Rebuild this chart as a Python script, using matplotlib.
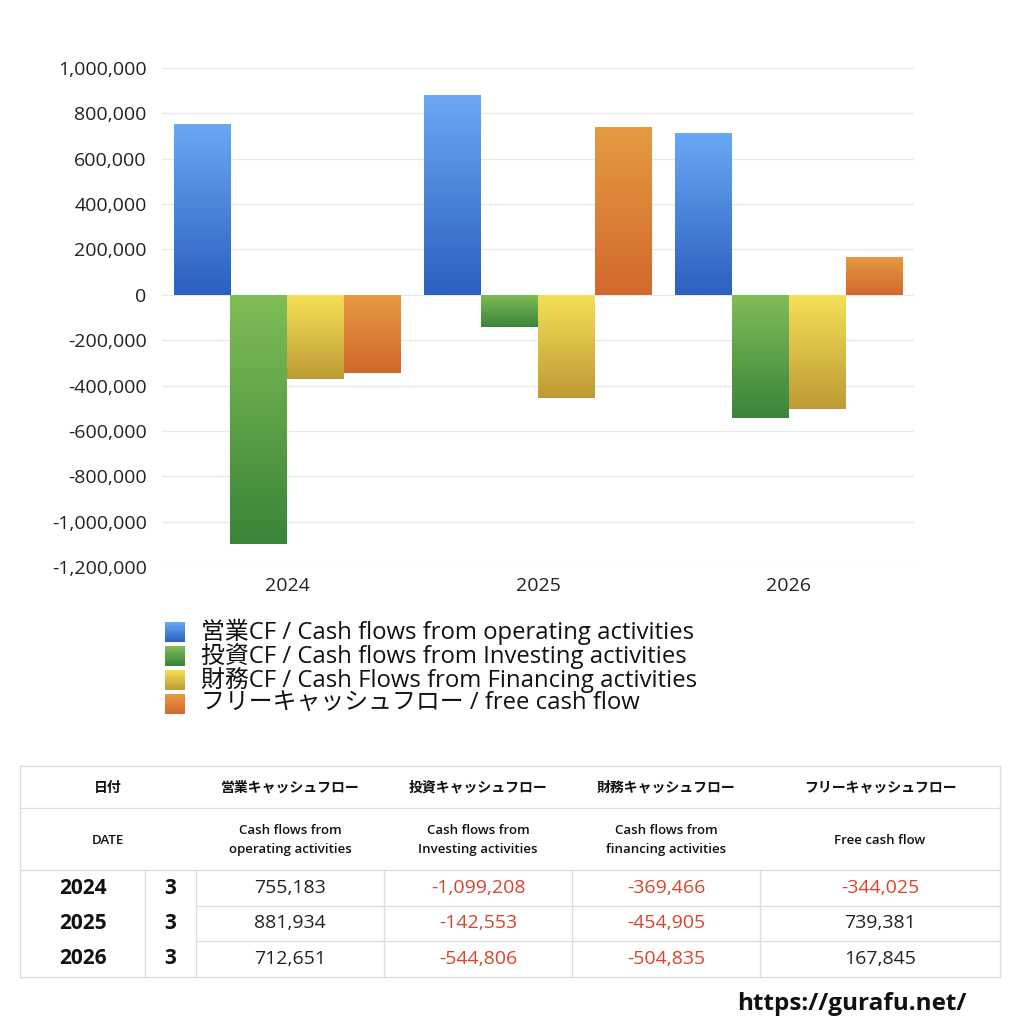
import numpy as np
import matplotlib
matplotlib.use("Agg")
import matplotlib.pyplot as plt
from matplotlib.colors import LinearSegmentedColormap
from matplotlib.ticker import FuncFormatter

plt.rcParams['font.family'] = ['Open Sans', 'Noto Sans CJK JP', 'DejaVu Sans']

# data
years = ["2024", "2025", "2026"]
months = ["3", "3", "3"]
operating_cf = [755183, 881934, 712651]
investing_cf = [-1099208, -142553, -544806]
financing_cf = [-369466, -454905, -504835]
free_cf = [-344025, 739381, 167845]

legend_labels = [
    "営業CF / Cash flows from operating activities",
    "投資CF / Cash flows from Investing activities",
    "財務CF / Cash Flows from Financing activities",
    "フリーキャッシュフロー / free cash flow",
]
header_jp = ["日付", "営業キャッシュフロー", "投資キャッシュフロー", "財務キャッシュフロー", "フリーキャッシュフロー"]
header_en = ["DATE", "Cash flows from\noperating activities", "Cash flows from\nInvesting activities",
             "Cash flows from\nfinancing activities", "Free cash flow"]

# top / bottom gradient colours per series
grad_colors = [
    ("#6aa8f4", "#2b60bf"),
    ("#80be56", "#3a8439"),
    ("#f6e057", "#bd9a34"),
    ("#e59b41", "#d2682d"),
]

W = H = 1024
fig = plt.figure(figsize=(10.24, 10.24), dpi=100)


def fx(px):
    return px / W


def fy(py):
    return 1 - py / H


# --- bar chart ---
ax = fig.add_axes([fx(162), fy(567), fx(914 - 162), (567 - 68) / H])
series = [operating_cf, investing_cf, financing_cf, free_cf]
x = np.arange(len(years))
bw = 0.227
for i, vals in enumerate(series):
    cmap = LinearSegmentedColormap.from_list("g%d" % i, [grad_colors[i][1], grad_colors[i][0]])
    bars = ax.bar(x + (i - 1.5) * bw, vals, width=bw, color="none", edgecolor="none", zorder=3)
    for b in bars:
        x0, y0 = b.get_x(), b.get_y()
        x1, y1 = x0 + b.get_width(), y0 + b.get_height()
        lo, hi = min(y0, y1), max(y0, y1)
        grad = np.linspace(0, 1, 256).reshape(-1, 1)
        im = ax.imshow(grad, cmap=cmap, origin="lower", aspect="auto",
                       extent=[x0, x1, lo, hi], zorder=3)
        im.set_clip_path(b)

ax.set_xlim(-0.5, 2.5)
ax.set_ylim(-1200000, 1000000)
ax.set_yticks(np.arange(-1200000, 1000001, 200000))
ax.yaxis.set_major_formatter(FuncFormatter(lambda v, p: f"{int(v):,}"))
ax.set_xticks(x)
ax.set_xticklabels(years)
ax.grid(axis="y", color="#e8e8e8", linewidth=0.9, zorder=0)
for s in ax.spines.values():
    s.set_visible(False)
ax.tick_params(length=0, labelsize=14, colors="#222222")
ax.tick_params(axis="y", pad=11)
ax.tick_params(axis="x", pad=7)

# --- legend ---
leg_y = [632, 656, 680, 704]
for i, lab in enumerate(leg_y):
    lax = fig.add_axes([fx(165), fy(lab + 10), fx(20), 20 / H])
    cmap = LinearSegmentedColormap.from_list("l%d" % i, [grad_colors[i][1], grad_colors[i][0]])
    lax.imshow(np.linspace(0, 1, 64).reshape(-1, 1), cmap=cmap, origin="lower", aspect="auto")
    lax.axis("off")
    fig.text(fx(201), fy(lab), legend_labels[i], fontsize=17.2, va="center", ha="left", color="#111111")

# --- table ---
line_c = "#dddddd"
left, right = 20, 1000
col_x = [20, 145, 196, 384, 572, 760, 1000]
row_y = [766, 808, 870, 906, 941, 977]


def hline(y, x0, x1):
    fig.add_artist(plt.Line2D([fx(x0), fx(x1)], [fy(y), fy(y)], color=line_c, lw=0.9))


def vline(x, y0, y1):
    fig.add_artist(plt.Line2D([fx(x), fx(x)], [fy(y0), fy(y1)], color=line_c, lw=0.9))


for y in row_y[:3] + [row_y[5]]:
    hline(y, left, right)
for y in row_y[3:5]:
    hline(y, 196, right)
vline(left, row_y[0], row_y[5])
vline(right, row_y[0], row_y[5])
for cx in col_x[1:6]:
    vline(cx, row_y[2], row_y[5])

head_cx = [108, 290, 478, 666, 880]
for i in range(5):
    fig.text(fx(head_cx[i]), fy(788), header_jp[i], fontsize=10, fontweight="bold",
             ha="center", va="center", color="#111111")
    fig.text(fx(head_cx[i]), fy(840), header_en[i], fontsize=9.5, fontweight="semibold",
             ha="center", va="center", color="#111111", linespacing=1.5)

red = "#d8452c"
data_cx = [290, 478, 666, 880]
for r in range(len(years)):
    cy = (row_y[2 + r] + row_y[3 + r]) / 2
    fig.text(fx(83), fy(cy), years[r], fontsize=15, fontweight="bold", ha="center", va="center", color="#111111")
    fig.text(fx(170), fy(cy), months[r], fontsize=15, fontweight="bold", ha="center", va="center", color="#111111")
    for c, vals in enumerate(series):
        v = vals[r]
        fig.text(fx(data_cx[c]), fy(cy), f"{v:,}", fontsize=14, ha="center", va="center",
                 color=red if v < 0 else "#222222")

fig.text(fx(852), fy(1004), "https://gurafu.net/", fontsize=17.5, fontweight="bold",
         ha="center", va="center", color="#111111")

fig.savefig("out.png", dpi=100, facecolor="white")
